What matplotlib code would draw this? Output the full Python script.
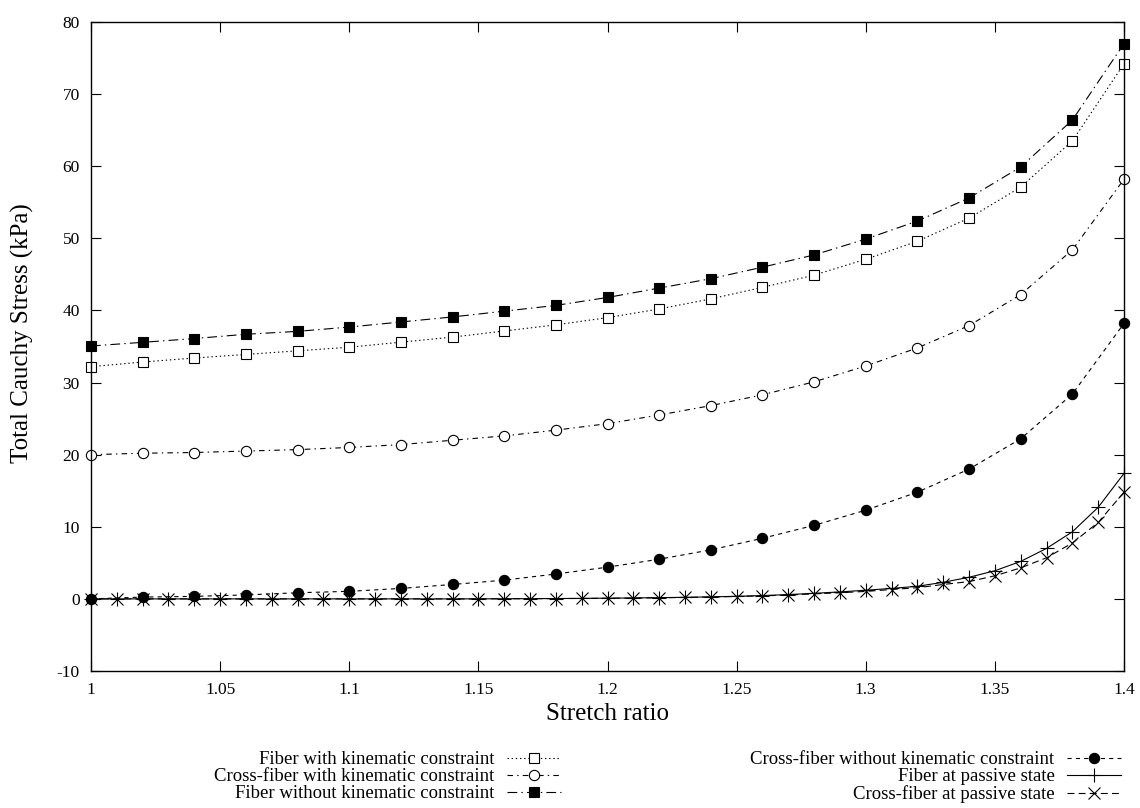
import matplotlib
matplotlib.use("Agg")
import matplotlib.pyplot as plt

plt.rcParams['font.family'] = ['Liberation Serif', 'DejaVu Serif']
plt.rcParams['axes.unicode_minus'] = False
plt.rcParams['lines.scale_dashes'] = False

# ---- data ----
stretch_main = [1.00, 1.02, 1.04, 1.06, 1.08, 1.10, 1.12, 1.14, 1.16, 1.18, 1.20,
                1.22, 1.24, 1.26, 1.28, 1.30, 1.32, 1.34, 1.36, 1.38, 1.40]
fiber_kin = [32.2, 32.85, 33.4, 33.9, 34.4, 34.9, 35.6, 36.3, 37.15, 38.0, 39.0,
             40.2, 41.6, 43.2, 44.9, 47.1, 49.6, 52.8, 57.1, 63.5, 74.2]
cross_kin = [20.0, 20.2, 20.3, 20.5, 20.7, 21.0, 21.4, 22.0, 22.6, 23.4, 24.3,
             25.5, 26.8, 28.3, 30.1, 32.3, 34.8, 37.9, 42.2, 48.4, 58.2]
fiber_nokin = [35.07, 35.58, 36.1, 36.7, 37.1, 37.7, 38.4, 39.1, 39.9, 40.7, 41.8,
               43.1, 44.4, 46.0, 47.7, 49.9, 52.4, 55.6, 59.9, 66.4, 77.0]
cross_nokin = [0.0, 0.25, 0.35, 0.55, 0.85, 1.05, 1.45, 2.0, 2.6, 3.45, 4.4,
               5.5, 6.8, 8.4, 10.2, 12.3, 14.8, 18.0, 22.2, 28.4, 38.2]

stretch_passive = [1.00, 1.01, 1.02, 1.03, 1.04, 1.05, 1.06, 1.07, 1.08, 1.09, 1.10,
                   1.11, 1.12, 1.13, 1.14, 1.15, 1.16, 1.17, 1.18, 1.19, 1.20,
                   1.21, 1.22, 1.23, 1.24, 1.25, 1.26, 1.27, 1.28, 1.29, 1.30,
                   1.31, 1.32, 1.33, 1.34, 1.35, 1.36, 1.37, 1.38, 1.39, 1.40]
fiber_passive = [0.0, 0.0, 0.0, 0.0, 0.0, 0.0, 0.0, 0.0, 0.0, 0.0, 0.0,
                 0.0, 0.0, 0.0, 0.0, 0.0, 0.02, 0.03, 0.05, 0.07, 0.10,
                 0.13, 0.17, 0.22, 0.28, 0.36, 0.46, 0.60, 0.77, 0.97, 1.20,
                 1.45, 1.75, 2.30, 3.00, 3.90, 5.20, 7.00, 9.30, 12.7, 17.4]
cross_passive = [0.0, 0.0, 0.0, 0.0, 0.0, 0.0, 0.0, 0.0, 0.0, 0.0, 0.0,
                 0.0, 0.0, 0.0, 0.0, 0.0, 0.02, 0.03, 0.04, 0.06, 0.08,
                 0.11, 0.15, 0.20, 0.26, 0.33, 0.42, 0.53, 0.70, 0.85, 1.04,
                 1.30, 1.55, 2.00, 2.40, 3.20, 4.30, 5.70, 7.75, 10.6, 14.8]

labels = ["Fiber with kinematic constraint",
          "Cross-fiber with kinematic constraint",
          "Fiber without kinematic constraint",
          "Cross-fiber without kinematic constraint",
          "Fiber at passive state",
          "Cross-fiber at passive state"]

x_ticks = [1.0, 1.05, 1.1, 1.15, 1.2, 1.25, 1.3, 1.35, 1.4]
x_ticklabels = ["1", "1.05", "1.1", "1.15", "1.2", "1.25", "1.3", "1.35", "1.4"]
y_ticks = [-10, 0, 10, 20, 30, 40, 50, 60, 70, 80]

# ---- figure ----
W, H = 1140, 808
fig = plt.figure(figsize=(W / 100, H / 100), dpi=100)
ax = fig.add_axes([91 / W, 1 - 671 / H, (1124 - 91) / W, (671 - 22) / H])

lw = 0.8
mew = 0.8
common = dict(color='black', lw=lw, clip_on=False, markeredgewidth=mew)

ax.plot(stretch_main, fiber_kin, marker='s', ms=7.4, mfc='white', mec='black',
        linestyle=(0, (1, 2)), label=labels[0], **common)
ax.plot(stretch_main, cross_kin, marker='o', ms=7.4, mfc='white', mec='black',
        linestyle=(0, (4, 3, 1, 3)), label=labels[1], **common)
ax.plot(stretch_main, fiber_nokin, marker='s', ms=7.6, mfc='black', mec='black',
        linestyle=(0, (7, 3, 1, 3)), label=labels[2], **common)
ax.plot(stretch_main, cross_nokin, marker='o', ms=7.4, mfc='black', mec='black',
        linestyle=(0, (3, 3)), label=labels[3], **common)
ax.plot(stretch_passive, fiber_passive, marker='+', ms=9.5, mec='black',
        linestyle='-', label=labels[4], **common)
ax.plot(stretch_passive, cross_passive, marker='x', ms=8.5, mec='black',
        linestyle=(0, (5, 3)), label=labels[5], **common)

ax.set_xlim(1.0, 1.4)
ax.set_ylim(-10, 80)
ax.set_xticks(x_ticks)
ax.set_xticklabels(x_ticklabels)
ax.set_yticks(y_ticks)
ax.tick_params(direction='in', length=7, width=0.8, top=True, right=True,
               labelsize=12.5, pad=8, colors='black')
for s in ax.spines.values():
    s.set_linewidth(1.0)

ax.set_xlabel("Stretch ratio", fontsize=18)
ax.set_ylabel("Total Cauchy Stress (kPa)", fontsize=18)
ax.xaxis.set_label_coords(0.5, (671 - 714) / 649)
ax.xaxis.label.set_va('center')
ax.yaxis.set_label_coords((22 - 91) / 1033, 0.52)
ax.yaxis.label.set_va('center')

leg = fig.legend(loc='upper right', bbox_to_anchor=(1121 / W, 1 - 751 / H),
                 ncol=2, markerfirst=False, frameon=False, fontsize=13.5,
                 handlelength=2.9, handletextpad=0.65, columnspacing=10.1,
                 labelspacing=0.0, borderpad=0, borderaxespad=0, numpoints=1)
fig.savefig("out.png", dpi=100, facecolor='white')
